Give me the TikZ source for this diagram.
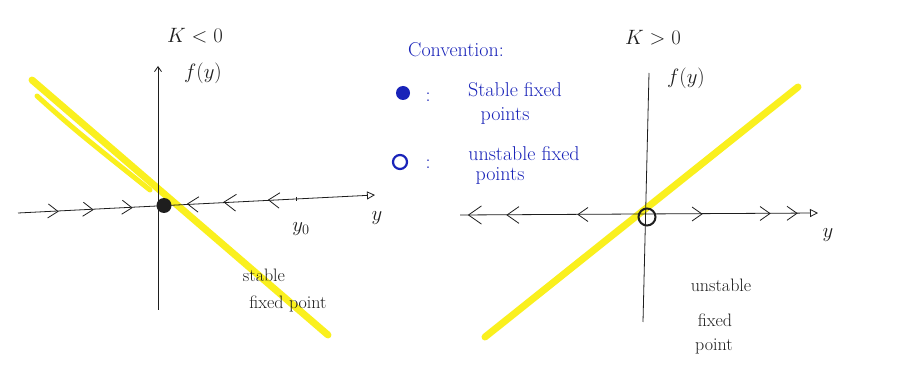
\documentclass[tikz,border=0pt]{standalone}
\usepackage{fontspec}
\usetikzlibrary{arrows.meta}
\definecolor{hl}{RGB}{250,240,30}
\definecolor{pen}{RGB}{30,30,30}
\definecolor{blu}{RGB}{25,35,185}
\tikzset{
  axis/.style={draw=pen, line width=0.8pt},
  hlline/.style={draw=hl, line width=7pt, line cap=round},
  lbl/.style={text=pen, font=\fontsize{21}{24}\selectfont, inner sep=0pt},
  note/.style={text=pen, font=\fontsize{18}{20}\selectfont, inner sep=0pt},
  leg/.style={text=blu, font=\fontsize{20}{23}\selectfont, inner sep=0pt},
  chevr/.pic={\draw[pen, line width=0.8pt] (-5,-7) -- (5,0) -- (-5,7);},
  chevl/.pic={\draw[pen, line width=0.8pt] (5,-7) -- (-5,0) -- (5,7);},
}
\begin{document}
\begin{tikzpicture}[x=1pt,y=-1pt]
\useasboundingbox[fill=white] (0,0) rectangle (924,371);

% ---------------- left plot (K<0) ----------------
\coordinate (L1) at (32,80);
\coordinate (L1b) at (37,96);
\coordinate (L1c) at (150,190);
\coordinate (L2) at (328,335);
\draw[hlline] (L1) -- (L2);
\draw[hl, line width=5pt, line cap=round] (L1b) .. controls (75,130) .. (L1c);

\coordinate (lxa) at (18,213);
\coordinate (lxb) at (375,195);
\coordinate (lya) at (158,310);
\coordinate (lyb) at (158,66);
\draw[axis, -{Triangle[open,length=8pt,width=8pt]}] (lxa) -- (lxb);
\draw[axis, -{Straight Barb[length=5pt,width=7pt]}] (lya) -- (lyb);

\pic[rotate=-3] at (53,211.2) {chevr};
\pic[rotate=-3] at (88,209.5) {chevr};
\pic[rotate=-3] at (127,207.5) {chevr};
\pic[rotate=-3,scale=1.1] at (193,204.2) {chevl};
\pic[rotate=-3,scale=1.2] at (230,202.4) {chevl};
\pic[rotate=-3,scale=1.1] at (274,200.2) {chevl};
\draw[pen, line width=0.8pt] (296,197) -- (296,201);

\node[circle, fill=pen, minimum size=15pt, inner sep=0pt] (sfp) at (164,205.5) {};

\node[lbl] (lk) at (195,36) {$K<0$};
\node[lbl] (lf) at (203,73) {$f(y)$};
\node[lbl] (ly0) at (301,229) {$y_0$};
\node[lbl] (ly) at (377,218) {$y$};
\node[note] (ls1) at (264,275) {stable};
\node[note] (ls2) at (288,304) {fixed point};

% ---------------- legend ----------------
\node[leg] (conv) at (456,50) {Convention:};
\node[circle, fill=blu, minimum size=14pt, inner sep=0pt] (lgs) at (403,93) {};
\node[leg] (c1) at (428,97) {:};
\node[leg] (t1a) at (515,90) {Stable fixed};
\node[leg] (t1b) at (505,116) {points};
\node[circle, draw=blu, line width=2.2pt, minimum size=14pt, inner sep=0pt] (lgu) at (400,162) {};
\node[leg] (c2) at (428,164) {:};
\node[leg] (t2a) at (524,154) {unstable fixed};
\node[leg] (t2b) at (500,176) {points};

% ---------------- right plot (K>0) ----------------
\coordinate (R1) at (485,337);
\coordinate (R2) at (798,87);
\draw[hlline] (R1) -- (R2);

\coordinate (rxa) at (460,215);
\coordinate (rxb) at (818,213);
\coordinate (rya) at (643,322);
\coordinate (ryb) at (649,73);
\draw[axis, -{Triangle[open,length=8pt,width=8pt]}] (rxa) -- (rxb);
\draw[axis] (rya) -- (ryb);

\pic[scale=1.3] at (475,215) {chevl};
\pic[scale=1.2] at (513,215) {chevl};
\pic at (583,214.5) {chevl};
\pic at (697,214) {chevr};
\pic at (765,213.5) {chevr};
\pic at (792,213.3) {chevr};

\node[circle, draw=pen, line width=2pt, minimum size=17pt, inner sep=0pt] (ufp) at (647,217) {};

\node[lbl] (rk) at (653,38) {$K>0$};
\node[lbl] (rf) at (686,78) {$f(y)$};
\node[lbl] (ry) at (828,235) {$y$};
\node[note] (ru1) at (721,285) {unstable};
\node[note] (ru2) at (715,320) {fixed};
\node[note] (ru3) at (714,346) {point};
\end{tikzpicture}
\end{document}
